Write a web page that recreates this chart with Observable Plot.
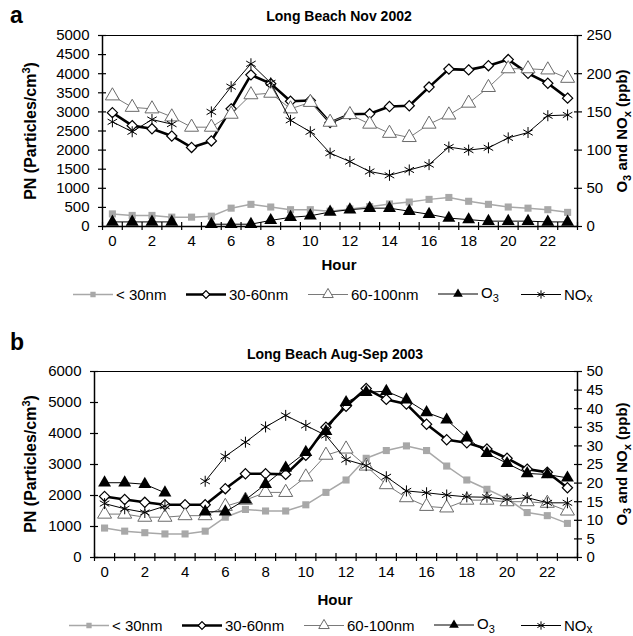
<!DOCTYPE html>
<html><head><meta charset="utf-8">
<script src="https://cdn.jsdelivr.net/npm/d3@7"></script>
<script src="https://cdn.jsdelivr.net/npm/@observablehq/plot@0.6"></script>
<style>
body{margin:0;background:#fff;font-family:"Liberation Sans",Arial,sans-serif;color:#000;}
#root{position:relative;width:633px;height:636px;overflow:hidden;background:#fff;}
.abs{position:absolute;white-space:nowrap;line-height:1;}
.rot{transform:translate(-50%,-50%) rotate(-90deg);}
.ctr{transform:translate(-50%,-50%);}
.bold{font-weight:bold;}
.leg{position:absolute;display:flex;align-items:center;font-size:15px;white-space:nowrap;transform:translateY(-50%);}
.leg svg{display:block;margin-right:3px;}
.plotwrap{position:absolute;left:0;}
</style></head><body><div id="root"></div>
<script>
// ---------- data ----------
const hours = [0,1,2,3,4,5,6,7,8,9,10,11,12,13,14,15,16,17,18,19,20,21,22,23];
const xLabels = [0,2,4,6,8,10,12,14,16,18,20,22];
const seriesNames = ["< 30nm","30-60nm","60-100nm","O3","NOx"];

// Panel a: Long Beach Nov 2002 (PN particles/cm3, O3/NOx ppb)
const aLt30  = [330,290,290,245,245,270,480,580,510,440,440,400,460,520,590,640,710,760,660,580,510,480,440,370];
const a3060  = [2980,2640,2560,2370,2070,2240,3080,3970,3740,3280,3300,2720,2940,2950,3140,3160,3650,4120,4100,4210,4370,4010,3750,3360];
const a60100 = [3420,3120,3080,2870,2600,2600,2940,3450,3490,3080,3250,2730,2930,2680,2440,2330,2680,2920,3230,3640,4130,4130,4100,3880];
const aO3    = [6,6,6,6,null,3,3,3,8,12,14,19,22,24,24,20,16,11,9,7,7,7,6,6];
const aNOx   = [137,124,140,134,null,150,183,213,188,139,124,96,85,72,67,74,81,104,100,103,116,123,145,146];
const aLeftTicks  = [0,500,1000,1500,2000,2500,3000,3500,4000,4500,5000];
const aRightTicks = [0,50,100,150,200,250];

// Panel b: Long Beach Aug-Sep 2003
const bLt30  = [950,850,800,760,760,850,1300,1550,1500,1500,1700,2100,2500,3200,3450,3600,3450,2950,2500,2200,1900,1450,1350,1100];
const b3060  = [1970,1870,1780,1700,1700,1700,2220,2700,2700,2680,3300,4200,4880,5450,5100,4950,4300,3800,3700,3500,3200,2850,2750,2250];
const b60100 = [1400,1400,1300,1300,1350,1350,1650,1850,2100,2100,2600,3300,3500,2950,2350,1930,1650,1600,1850,1850,1800,1800,1750,1500];
const bO3    = [20.1,20.1,19.7,17.4,null,12.3,12.3,15.5,19.7,24.1,28.3,33.9,41.7,44.4,44.7,42.4,39,37,32.2,28,25.3,22.6,22.3,21.4];
const bNOx   = [14.5,13.1,12.1,13.8,null,20.5,27.2,31,35.1,38.2,35.5,32.8,26.3,24.7,21.7,17.9,17.4,16.8,16.3,16.2,15.6,16.1,14.7,14.7];
const bLeftTicks  = [0,1000,2000,3000,4000,5000,6000];
const bRightTicks = [0,5,10,15,20,25,30,35,40,45,50];

// ---------- styles ----------
const styles = {
  "< 30nm":  {line:{stroke:"#a8a8a8", strokeWidth:1.5}, dot:{symbol:"square", fill:"#a8a8a8", stroke:"none", r:4}},
  "30-60nm": {line:{stroke:"#000", strokeWidth:2.6}, dot:{symbol:"diamond2", fill:"#fff", stroke:"#000", strokeWidth:1.2, r:4.6}},
  "60-100nm":{line:{stroke:"#7a7a7a", strokeWidth:1}, dot:{symbol:"triangle", fill:"#fff", stroke:"#6a6a6a", strokeWidth:1, r:5.2}},
  "O3":      {line:{stroke:"#000", strokeWidth:1}, dot:{symbol:"triangle", fill:"#000", stroke:"none", r:4.8}},
  "NOx":     {line:{stroke:"#000", strokeWidth:1}, dot:{symbol:"asterisk", fill:"none", stroke:"#000", strokeWidth:1, r:5.2}}
};

const root = document.getElementById("root");
function addDiv(html, cls, left, top, extra) {
  const d = document.createElement("div");
  d.className = "abs " + cls;
  d.innerHTML = html;
  d.style.left = left + "px";
  d.style.top = top + "px";
  if (extra) Object.assign(d.style, extra);
  root.appendChild(d);
  return d;
}

function panel(cfg) {
  const k = cfg.yMax / cfg.rMax;
  const rows = hours.map((h, i) => ({
    h,
    lt30: cfg.lt30[i], m3060: cfg.m3060[i], m60100: cfg.m60100[i],
    o3: cfg.o3[i] == null ? NaN : cfg.o3[i] * k,
    nox: cfg.nox[i] == null ? NaN : cfg.nox[i] * k
  }));
  const keys = [["< 30nm","lt30"],["30-60nm","m3060"],["60-100nm","m60100"],["O3","o3"],["NOx","nox"]];
  const boundaries = hours.map(h => h - 0.5).concat([hours[hours.length-1] + 0.5]);
  const rTicks = cfg.rightTicks.map(v => v * k);
  const seriesMarks = [];
  for (const [name, key] of keys) {
    seriesMarks.push(Plot.line(rows, {x: "h", y: key, ...styles[name].line}));
    seriesMarks.push(Plot.dot(rows, {x: "h", y: key, ...styles[name].dot}));
  }
  const p = Plot.plot({
    width: 633, height: cfg.height,
    marginLeft: cfg.marginLeft, marginRight: cfg.marginRight,
    marginTop: cfg.marginTop, marginBottom: cfg.marginBottom,
    style: {fontFamily: "Liberation Sans, Arial, sans-serif", fontSize: "15px", color: "#000", background: "transparent", overflow: "visible"},
    x: {domain: [boundaries[0], boundaries[boundaries.length-1]]},
    y: {domain: [0, cfg.yMax]},
    marks: [
      Plot.axisX({ticks: boundaries, tickSize: 8, dy: -4, tickFormat: () => "", label: null, strokeWidth: 1.2}),
      Plot.axisX({ticks: xLabels, tickSize: 0, tickPadding: cfg.xPad, tickFormat: d => String(d), label: null}),
      Plot.axisY({ticks: cfg.leftTicks, tickSize: 8, dx: 4, tickFormat: () => "", label: null, strokeWidth: 1.2}),
      Plot.axisY({ticks: cfg.leftTicks, tickSize: 0, tickPadding: 13, tickFormat: d => String(d), label: null}),
      Plot.axisY({anchor: "right", ticks: rTicks, tickSize: 8, dx: -4, tickFormat: () => "", label: null, strokeWidth: 1.2}),
      Plot.axisY({anchor: "right", ticks: rTicks, tickSize: 0, tickPadding: 9, tickFormat: d => String(Math.round(d / k)), label: null}),
      Plot.ruleY([0], {stroke: "#000", strokeWidth: 1.5}),
      Plot.ruleX([boundaries[0], boundaries[boundaries.length-1]], {stroke: "#000", strokeWidth: 1.5}),
      Plot.ruleY([cfg.yMax], {stroke: "#000", strokeWidth: 1}),
      ...seriesMarks
    ]
  });
  const w = document.createElement("div");
  w.className = "plotwrap";
  w.style.top = cfg.top + "px";
  w.appendChild(p);
  root.appendChild(w);
}

function legend(y, lefts) {
  seriesNames.forEach((name, i) => {
    const st = styles[name];
    const item = document.createElement("div");
    item.className = "leg";
    item.style.left = lefts[i] + "px";
    item.style.top = y + "px";
    const svg = d3.create("svg").attr("width", 40).attr("height", 14);
    svg.append("line").attr("x1", 0).attr("x2", 40).attr("y1", 7).attr("y2", 7)
      .attr("stroke", st.line.stroke).attr("stroke-width", st.line.strokeWidth);
    const typeMap = {square: d3.symbolSquare, diamond2: d3.symbolDiamond2, triangle: d3.symbolTriangle, asterisk: d3.symbolAsterisk};
    const r = st.dot.r * 0.75;
    svg.append("path").attr("transform", "translate(20,7)")
      .attr("d", d3.symbol(typeMap[st.dot.symbol], Math.PI * r * r)())
      .attr("fill", st.dot.fill).attr("stroke", st.dot.stroke)
      .attr("stroke-width", st.dot.strokeWidth || 1);
    item.appendChild(svg.node());
    const t = document.createElement("span");
    let label = name;
    if (name === "O3") label = "O<sub style='font-size:11px'>3</sub>";
    if (name === "NOx") label = "NO<span style='font-size:12px;position:relative;top:2px'>x</span>";
    t.innerHTML = label;
    item.appendChild(t);
    root.appendChild(item);
  });
}

// Panel a
panel({lt30: aLt30, m3060: a3060, m60100: a60100, o3: aO3, nox: aNOx,
  yMax: 5000, rMax: 250, leftTicks: aLeftTicks, rightTicks: aRightTicks,
  top: 0, height: 256, marginTop: 35, marginBottom: 30, marginLeft: 102, marginRight: 56, xPad: 9});
// Panel b
panel({lt30: bLt30, m3060: b3060, m60100: b60100, o3: bO3, nox: bNOx,
  yMax: 6000, rMax: 50, leftTicks: bLeftTicks, rightTicks: bRightTicks,
  top: 336, height: 251, marginTop: 35, marginBottom: 30, marginLeft: 94, marginRight: 56, xPad: 9});

// Text
addDiv("a", "bold", 10, 4, {fontSize: "23px"});
addDiv("Long Beach Nov 2002", "bold ctr", 339, 16, {fontSize: "14px"});
addDiv("PN (Particles/cm<sup style='font-size:11px'>3</sup>)", "bold rot", 30, 131, {fontSize: "16px"});
addDiv("O<sub style='font-size:11px'>3</sub> and NO<sub style='font-size:11px'>x</sub> (ppb)", "bold rot", 623, 131, {fontSize: "15px"});
addDiv("Hour", "bold ctr", 339, 264, {fontSize: "15px"});
legend(294, [73, 186, 308, 438, 521]);

addDiv("b", "bold", 10, 331, {fontSize: "23px"});
addDiv("Long Beach Aug-Sep 2003", "bold ctr", 335, 354, {fontSize: "14px"});
addDiv("PN (Particles/cm<sup style='font-size:11px'>3</sup>)", "bold rot", 30, 464, {fontSize: "16px"});
addDiv("O<sub style='font-size:11px'>3</sub> and NO<sub style='font-size:11px'>x</sub> (ppb)", "bold rot", 623, 464, {fontSize: "15px"});
addDiv("Hour", "bold ctr", 335, 599, {fontSize: "15px"});
legend(625, [69, 182, 304, 434, 521]);
</script></body></html>
